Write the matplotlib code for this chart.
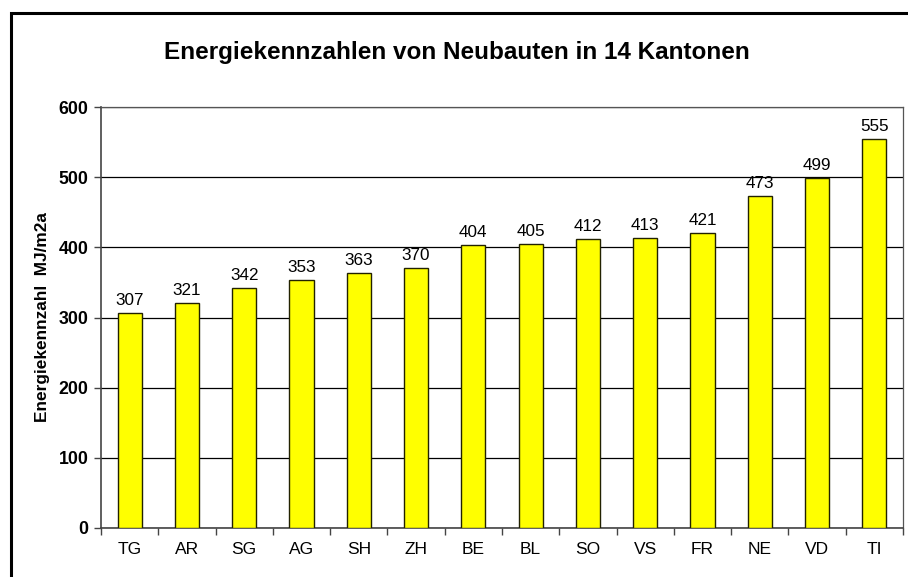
import matplotlib.pyplot as plt
from matplotlib.patches import Rectangle

kantone = ['TG', 'AR', 'SG', 'AG', 'SH', 'ZH', 'BE', 'BL', 'SO', 'VS', 'FR', 'NE', 'VD', 'TI']
werte = [307, 321, 342, 353, 363, 370, 404, 405, 412, 413, 421, 473, 499, 555]
y_ticks = [0, 100, 200, 300, 400, 500, 600]

plt.rcParams['font.family'] = ['Liberation Sans', 'DejaVu Sans']

W, H = 908, 577
fig = plt.figure(figsize=(W / 100, H / 100), dpi=100)

# outer chart frame (cut off at right and bottom like the screenshot)
fig.patches.append(Rectangle((11 / W, -0.1), 1.2, 1.1 - 13 / H, transform=fig.transFigure,
                             fill=False, edgecolor='black', linewidth=2.2))

ax = fig.add_axes([101 / W, 1 - 528 / H, (903 - 101) / W, (528 - 107) / H])

x = range(len(kantone))
ax.bar(x, werte, width=0.42, color='#FFFF00', edgecolor='#222200', linewidth=1.0, zorder=3)

for xi, v in zip(x, werte):
    ax.text(xi, v + 7, str(v), ha='center', va='bottom', fontsize=12.3)

ax.set_xlim(-0.5, len(kantone) - 0.5)
ax.set_ylim(0, 600)
ax.set_yticks(y_ticks)
ax.set_yticklabels([str(t) for t in y_ticks], fontweight='bold', fontsize=12.8)
ax.yaxis.grid(True, color='black', linewidth=0.9, zorder=0)

ax.set_xticks(list(x))
ax.set_xticklabels(kantone, fontsize=12.5)
ax.tick_params(axis='x', length=0, pad=10)
ax.set_xticks([i + 0.5 for i in range(-1, len(kantone))], minor=True)
ax.tick_params(axis='x', which='minor', length=5, width=1, color='#444444')
ax.tick_params(axis='y', length=5, width=1, color='#444444', pad=4)

for s in ['left', 'bottom']:
    ax.spines[s].set_color('#444444')
    ax.spines[s].set_linewidth(1.2)
for s in ['top', 'right']:
    ax.spines[s].set_color('#555555')
    ax.spines[s].set_linewidth(0.9)

ax.set_ylabel('Energiekennzahl  MJ/m2a', fontweight='bold', fontsize=12.4)
ax.yaxis.label.set_va('center')
ax.yaxis.set_label_coords((43 - 101) / (903 - 101), 0.5)

fig.text(457 / W, 1 - 53 / H, 'Energiekennzahlen von Neubauten in 14 Kantonen',
         ha='center', va='center', fontsize=17.5, fontweight='bold')

fig.savefig('out.png', dpi=100)
